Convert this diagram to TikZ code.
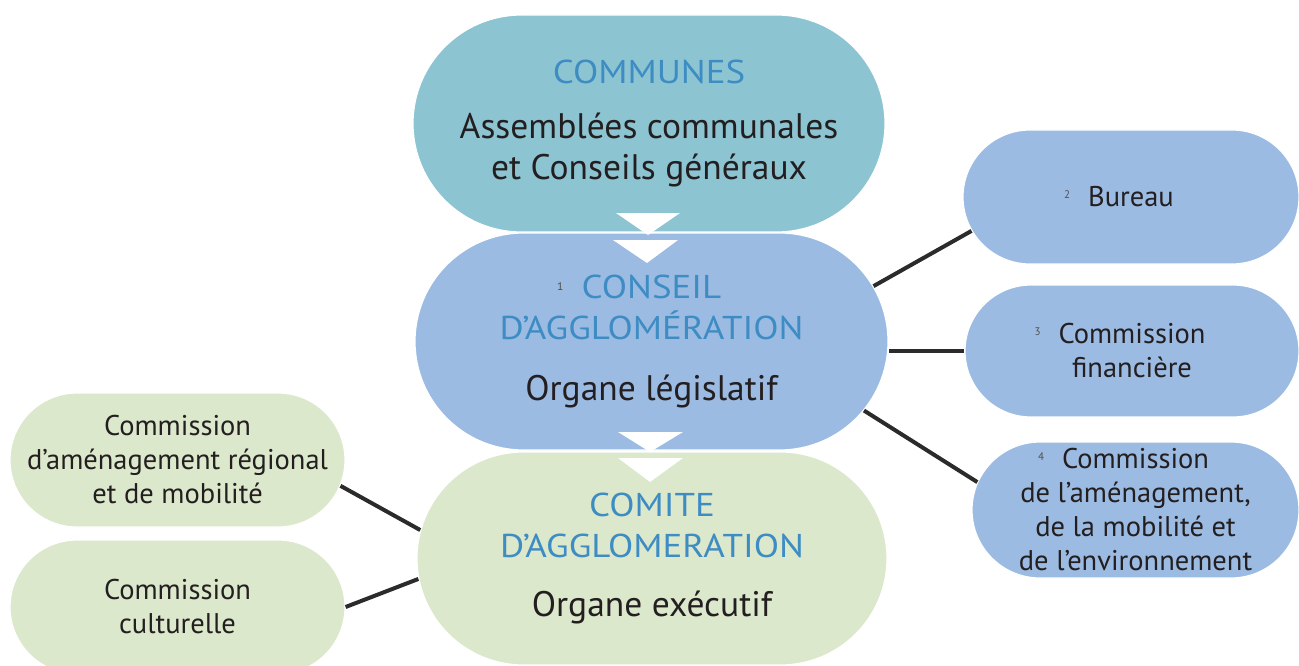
\documentclass[tikz,border=0pt]{standalone}
\usepackage{fontspec}
\setmainfont{PT Sans}
\newfontfamily\titlefont[FakeStretch=1.12]{PT Sans}
\usetikzlibrary{shapes.misc}
\definecolor{cteal}{RGB}{141,196,210}
\definecolor{cblue}{RGB}{156,187,227}
\definecolor{cgreen}{RGB}{220,232,203}
\definecolor{ctitle}{RGB}{61,140,195}
\definecolor{ctext}{RGB}{35,31,32}
\definecolor{cline}{RGB}{43,43,43}
\definecolor{cnum}{RGB}{80,80,80}
\newcommand\ttl[1]{{\color{ctitle}\titlefont\fontsize{33}{41}\selectfont #1}}
\newcommand\numsup[1]{\llap{\raisebox{8pt}{\fontsize{11}{11}\selectfont\color{cnum}#1}\hspace{18pt}}}
\begin{document}
\begin{tikzpicture}[x=1pt,y=-1pt,
  pill/.style={rounded rectangle, draw=white, line width=1.2pt, inner sep=0pt, align=center, text=ctext},
  bigbox/.style={pill, minimum width=472pt, minimum height=217pt, font=\fontsize{35.5}{41}\selectfont},
  smallbox/.style={pill, minimum width=335pt, minimum height=134pt, font=\fontsize{28.5}{34}\selectfont},
  conn/.style={draw=cline, line width=4pt},
  tri/.style={fill=white, draw=none}]
\useasboundingbox (0,0) rectangle (1299,666);

\node[bigbox, fill=cteal] (communes) at (649,123.5)
  {\ttl{COMMUNES}\\[14pt]Assemblées communales\\et Conseils généraux};
\node[bigbox, fill=cblue, minimum width=473pt] (conseil) at (651.5,341.5)
  {\ttl{\numsup{1}CONSEIL}\\\ttl{D’AGGLOMÉRATION}\\[20pt]Organe législatif};
\node[bigbox, fill=cgreen, minimum width=470pt, minimum height=213pt] (comite) at (652,558.5)
  {\ttl{COMITE}\\\ttl{D’AGGLOMERATION}\\[18pt]Organe exécutif};

\node[smallbox, fill=cblue, minimum width=336pt] (bureau) at (1131,197) {\numsup{2}Bureau};
\node[smallbox, fill=cblue, minimum width=334pt, minimum height=132pt] (fin) at (1132,351)
  {\numsup{3}Commission\\financière};
\node[smallbox, fill=cblue, minimum width=327pt, minimum height=136pt] (amen) at (1135.5,510)
  {\numsup{4}Commission\\de l’aménagement,\\de la mobilité et\\de l’environnement};

\node[smallbox, fill=cgreen] (region) at (177.5,460)
  {Commission\\d’aménagement régional\\et de mobilité};
\node[smallbox, fill=cgreen] (culture) at (177.5,607)
  {Commission\\culturelle};

\fill[tri] (616,213) -- (680,213) -- (648,235) -- cycle;
\fill[tri] (613,240) -- (678,240) -- (647,263) -- cycle;
\fill[tri] (618,432) -- (683,432) -- (650,452) -- cycle;
\fill[tri] (618,458) -- (683,458) -- (650,482) -- cycle;

\draw[conn] (conseil.14) -- (bureau.192);
\draw[conn] (fin.west) -- (fin.west -| conseil.east);
\draw[conn] (conseil.-18) -- (amen.170);
\draw[conn] (comite.173) -- (region.-9);
\draw[conn] (comite.185) -- (culture.0);
\end{tikzpicture}
\end{document}
